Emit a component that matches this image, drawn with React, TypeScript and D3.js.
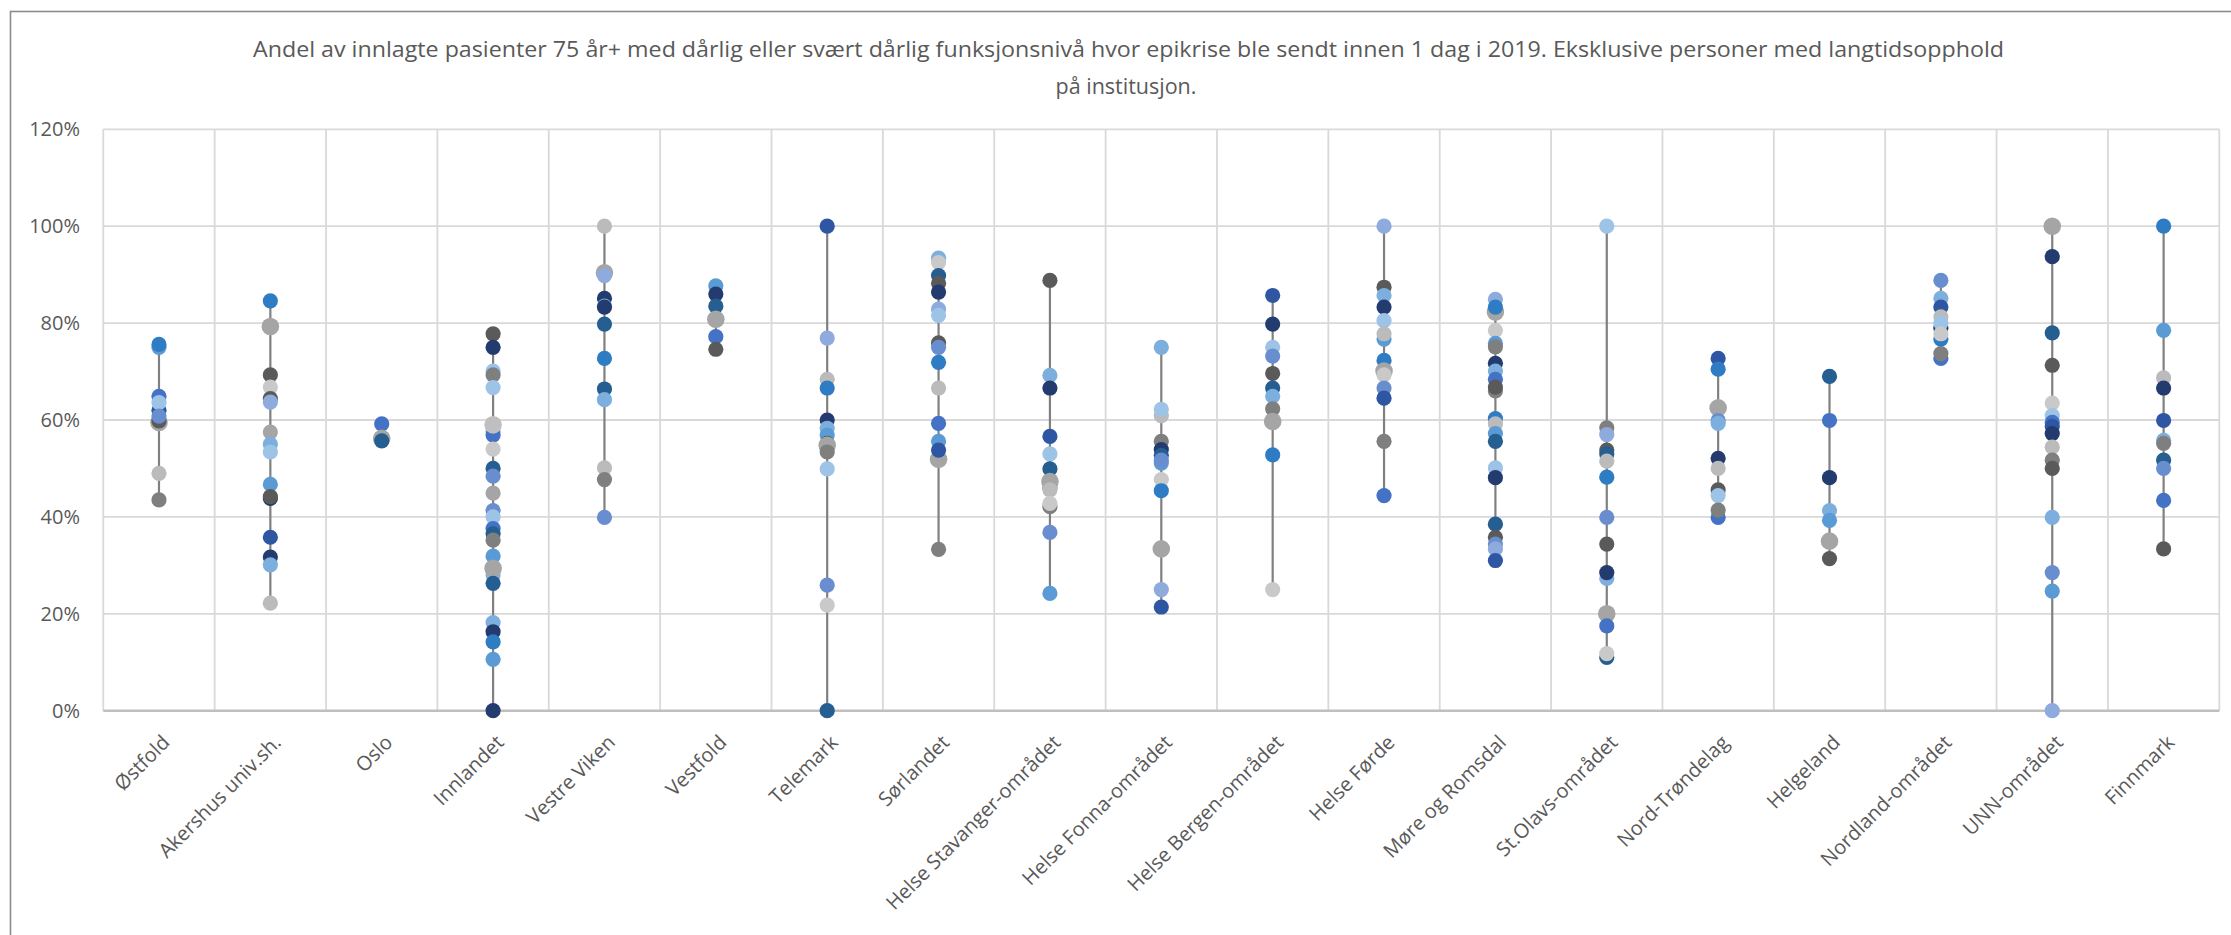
import React from 'react';
import * as d3 from 'd3';

const titleLines = [
  'Andel av innlagte pasienter 75 år+ med dårlig eller svært dårlig funksjonsnivå hvor epikrise ble sendt innen 1 dag i 2019. Eksklusive personer med langtidsopphold',
  'på institusjon.',
];

const categories = [
  'Østfold', 'Akershus univ.sh.', 'Oslo', 'Innlandet', 'Vestre Viken', 'Vestfold', 'Telemark',
  'Sørlandet', 'Helse Stavanger-området', 'Helse Fonna-området', 'Helse Bergen-området', 'Helse Førde',
  'Møre og Romsdal', 'St.Olavs-området', 'Nord-Trøndelag', 'Helgeland', 'Nordland-området',
  'UNN-området', 'Finnmark',
];

// Percent values per category (one array per category)
const valOstfold = [75.0, 75.6, 59.5, 59.8, 62.0, 64.9, 63.6, 60.8, 49.0, 43.5];
const valAkershus = [84.6, 79.3, 69.3, 66.8, 64.4, 63.7, 57.5, 55.0, 53.4, 46.7, 43.8, 44.2, 35.8, 31.7, 30.1, 22.2];
const valOslo = [59.2, 56.2, 55.7];
const valInnlandet = [77.8, 75.0, 70.1, 69.3, 66.7, 57.6, 56.9, 59.0, 54.0, 50.0, 48.4, 44.9, 41.3, 40.0, 37.6, 36.5, 35.2, 31.9, 28.0, 29.4, 26.3, 18.2, 16.3, 14.2, 10.6, 0];
const valVestreViken = [100, 90.4, 89.8, 85.1, 83.5, 83.3, 79.8, 72.7, 66.4, 64.2, 50.1, 47.7, 39.9];
const valVestfold = [87.7, 86.0, 83.5, 80.8, 77.2, 74.6];
const valTelemark = [100, 76.9, 68.4, 66.6, 60.0, 58.3, 56.9, 55.2, 54.8, 53.4, 49.9, 25.9, 21.8, 0];
const valSorlandet = [93.4, 92.5, 89.8, 88.2, 86.4, 82.9, 81.6, 75.9, 75.0, 71.9, 66.6, 59.3, 55.6, 51.9, 53.8, 33.3];
const valStavanger = [88.8, 69.2, 66.6, 56.6, 53.0, 49.9, 46.0, 47.3, 45.6, 42.1, 42.8, 36.8, 24.2];
const valFonna = [75.0, 60.9, 62.2, 55.6, 53.9, 52.7, 51.1, 51.7, 47.7, 45.4, 33.4, 25.0, 21.4];
const valBergen = [85.7, 79.8, 75.0, 73.2, 69.6, 66.6, 64.9, 62.3, 59.9, 59.7, 52.8, 25.0];
const valForde = [100, 87.4, 85.7, 83.3, 80.5, 76.7, 77.8, 72.3, 70.1, 69.3, 66.6, 64.5, 55.6, 44.4];
const valMore = [82.3, 84.9, 83.3, 78.5, 75.8, 75.1, 71.7, 70.1, 68.4, 66.0, 66.8, 60.3, 59.2, 57.2, 55.6, 50.1, 48.1, 38.5, 35.8, 34.4, 33.4, 31.0];
const valStOlavs = [100, 58.4, 57.0, 53.8, 53.0, 51.5, 48.2, 39.9, 34.4, 27.3, 28.5, 20.0, 17.5, 11.0, 11.8];
const valNordTrondelag = [72.7, 70.5, 62.5, 59.9, 59.3, 52.1, 50.0, 45.6, 44.4, 39.9, 41.4];
const valHelgeland = [69.0, 59.9, 48.1, 41.3, 39.3, 35.0, 31.4];
const valNordland = [88.8, 85.1, 83.3, 81.3, 79.0, 80.0, 76.7, 77.8, 72.7, 73.7];
const valUNN = [100, 93.7, 78.0, 71.3, 63.5, 60.9, 59.5, 58.7, 57.2, 54.4, 51.7, 50.0, 39.9, 28.5, 24.7, 0];
const valFinnmark = [100, 78.5, 68.7, 66.6, 59.9, 55.8, 55.2, 51.7, 50.0, 43.4, 33.4];

const values: number[][] = [
  valOstfold, valAkershus, valOslo, valInnlandet, valVestreViken, valVestfold, valTelemark,
  valSorlandet, valStavanger, valFonna, valBergen, valForde, valMore, valStOlavs,
  valNordTrondelag, valHelgeland, valNordland, valUNN, valFinnmark,
];

// Marker colour keys, one character per value (same order as the value arrays)
const colorKeys = [
  'LMXGTBPVcm',
  'MXGwGWgSPLNGDNSc',
  'BXT',
  'GNPmPSBYwTVgVPBTmLWXTSNMLN',
  'cXWNSNTMTScmV',
  'LNTXBG',
  'DWcMNSLGXmPVwT',
  'SwTGNWPGVMcBLXDm',
  'GSNDPTBXcmwVL',
  'ScPmNTLVwMXWD',
  'DNPVGTSmBXMw',
  'WGSNPLcMXwVDmB',
  'XWMwLmNSBmGMcLTPNTGVWD',
  'PmWGTcMVGSNXBTw',
  'DMXVSNcGPBm',
  'TBNSLXG',
  'VSDcNPMwBm',
  'XNTGwPBDNcmGSVLW',
  'MLcNDSmTVBG',
];

const palette: Record<string, string> = {
  N: '#233B6E', D: '#2F56A3', B: '#4472C4', M: '#2E7CC4', T: '#255E91', L: '#5B9BD5',
  S: '#7CAFDD', P: '#9DC3E6', V: '#698ED0', W: '#8FAADC', G: '#5A5A5A', m: '#7F7F7F',
  g: '#A5A5A5', c: '#BBBBBB', w: '#C9C9C9', X: '#A5A5A5', Y: '#BFBFBF',
};

const yTickValues = [0, 20, 40, 60, 80, 100, 120];
const yTickLabels = ['0%', '20%', '40%', '60%', '80%', '100%', '120%'];

export default function App() {
  const W = 2231;
  const H = 935;
  const left = 103.3;
  const right = 2219.3;
  const top = 129.3;
  const bottom = 710.7;

  const x = d3.scaleBand<string>().domain(categories).range([left, right]).padding(0);
  const y = d3.scaleLinear().domain([0, 120]).range([bottom, top]);
  const step = x.step();
  const font = "'Open Sans', 'Noto Sans', sans-serif";
  const textColor = '#595959';

  return (
    <svg
      width={W}
      height={H}
      viewBox={`0 0 ${W} ${H}`}
      style={{ position: 'absolute', left: 0, top: 0, background: '#ffffff' }}
      fontFamily={font}
    >
      <rect x={0} y={0} width={W} height={H} fill="#ffffff" />
      <rect x={10.5} y={11.5} width={2400} height={1100} fill="none" stroke="#8c8c8c" strokeWidth={1.6} />

      <text x={1128.5} y={56.7} textAnchor="middle" fontSize={21.5} fill={textColor}
        textLength={1751} lengthAdjust="spacingAndGlyphs">{titleLines[0]}</text>
      <text x={1126} y={93.5} textAnchor="middle" fontSize={21.5} fill={textColor}>{titleLines[1]}</text>

      {/* horizontal gridlines */}
      {yTickValues.filter((t) => t > 0).map((t) => (
        <line key={'h' + t} x1={left} x2={right} y1={y(t)} y2={y(t)} stroke="#d9d9d9" strokeWidth={1.8} />
      ))}
      {/* vertical gridlines */}
      {d3.range(categories.length + 1).map((i) => (
        <line key={'v' + i} x1={left + i * step} x2={left + i * step} y1={top} y2={bottom} stroke="#d9d9d9" strokeWidth={1.8} />
      ))}
      {/* category axis */}
      <line x1={left} x2={right} y1={y(0)} y2={y(0)} stroke="#bfbfbf" strokeWidth={2.4} />

      {/* value axis labels */}
      {yTickValues.map((t, i) => (
        <text key={'yl' + t} x={80} y={y(t)} dy="0.35em" textAnchor="end" fontSize={20} fill={textColor}>
          {yTickLabels[i]}
        </text>
      ))}

      {/* category labels */}
      {categories.map((c) => {
        const cx = (x(c) as number) + x.bandwidth() / 2;
        const ax = cx + 12;
        const ay = bottom + 33;
        return (
          <text key={'cl' + c} x={ax} y={ay} textAnchor="end" fontSize={20} fill={textColor}
            transform={`rotate(-45 ${ax} ${ay})`}>{c}</text>
        );
      })}

      {/* high-low lines */}
      {categories.map((c, i) => {
        const cx = (x(c) as number) + x.bandwidth() / 2;
        const ext = d3.extent(values[i]) as [number, number];
        return (
          <line key={'hl' + c} x1={cx} x2={cx} y1={y(ext[1])} y2={y(ext[0])} stroke="#808080" strokeWidth={2.2} />
        );
      })}

      {/* markers */}
      {categories.map((c, i) => {
        const cx = (x(c) as number) + x.bandwidth() / 2;
        const keys = colorKeys[i];
        return (
          <g key={'g' + c}>
            {values[i].map((v, j) => {
              const k = keys[j] || 'B';
              const big = k === 'X' || k === 'Y';
              return <circle key={j} cx={cx} cy={y(v)} r={big ? 8.8 : 7.6} fill={palette[k]} />;
            })}
          </g>
        );
      })}
    </svg>
  );
}
